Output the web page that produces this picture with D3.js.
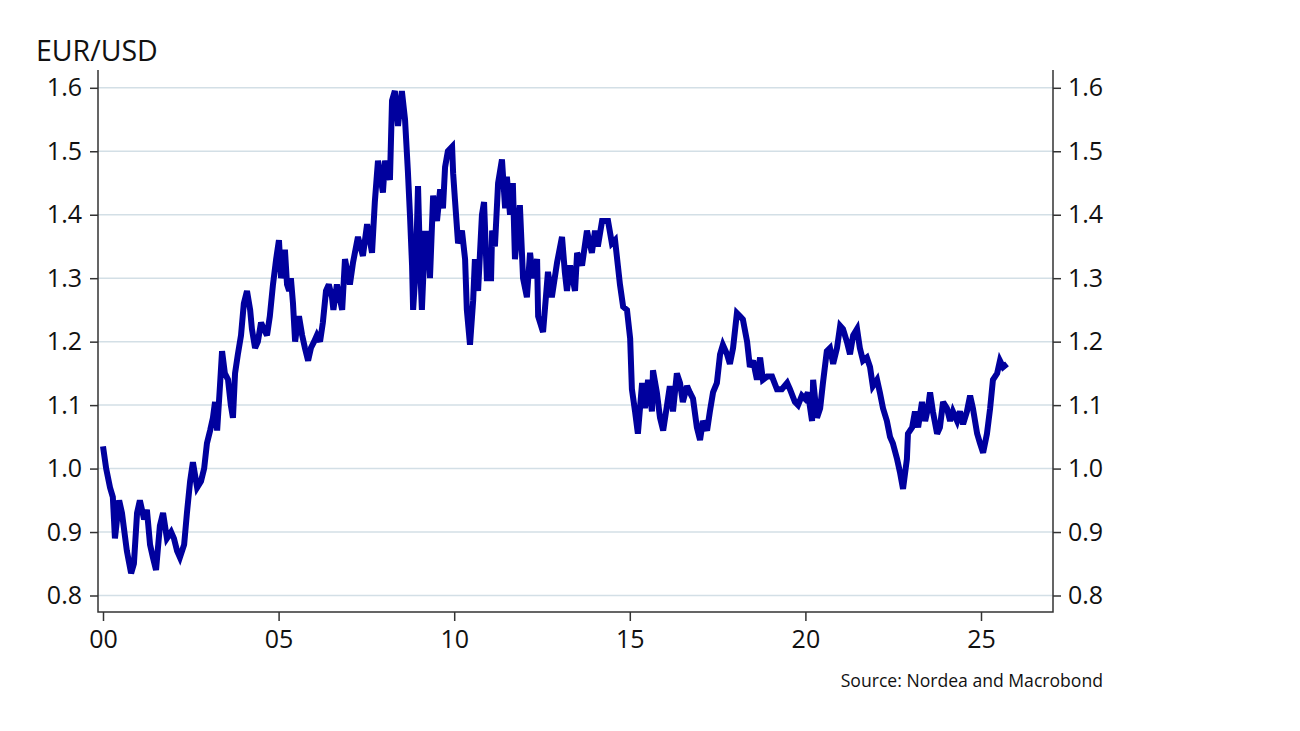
<!DOCTYPE html>
<html>
<head>
<meta charset="utf-8">
<script src="https://cdn.jsdelivr.net/npm/d3@7"></script>
<style>
  html, body { margin: 0; padding: 0; background: #ffffff; }
  svg { display: block; font-family: "Open Sans", "Noto Sans", sans-serif; }
</style>
</head>
<body>
<svg id="chart" width="1300" height="731"></svg>
<script>
// ---- data ----
const title = "EUR/USD";
const source = "Source: Nordea and Macrobond";
const yTicks = [0.8, 0.9, 1.0, 1.1, 1.2, 1.3, 1.4, 1.5, 1.6];
const xTicks = [2000, 2005, 2010, 2015, 2020, 2025];
const xTickLabels = ["00", "05", "10", "15", "20", "25"];

// decimal years
const dates = [
  2000.00, 2000.09, 2000.20, 2000.28, 2000.34, 2000.46, 2000.54, 2000.68, 2000.80, 2000.88,
  2000.97, 2001.05, 2001.17, 2001.25, 2001.34, 2001.42, 2001.51, 2001.62, 2001.71, 2001.82,
  2001.94, 2002.02, 2002.11, 2002.19, 2002.31, 2002.39, 2002.48, 2002.56, 2002.68, 2002.79,
  2002.88, 2002.96, 2003.05, 2003.13, 2003.19, 2003.25, 2003.33, 2003.39, 2003.47, 2003.56,
  2003.64, 2003.70, 2003.76, 2003.84, 2003.93, 2004.01, 2004.10, 2004.19, 2004.24, 2004.33,
  2004.41, 2004.50, 2004.58, 2004.67, 2004.75, 2004.84, 2004.93, 2005.01, 2005.07, 2005.13,
  2005.18, 2005.24, 2005.30, 2005.35, 2005.41, 2005.47, 2005.52, 2005.58, 2005.67, 2005.75,
  2005.84, 2005.92, 2006.01, 2006.09, 2006.18, 2006.26, 2006.35, 2006.43, 2006.52, 2006.56,
  2006.66, 2006.81, 2006.89, 2007.03, 2007.12, 2007.26, 2007.40, 2007.52, 2007.66, 2007.74,
  2007.83, 2007.97, 2008.03, 2008.17, 2008.23, 2008.31, 2008.40, 2008.51, 2008.60, 2008.68,
  2008.74, 2008.80, 2008.83, 2008.91, 2008.97, 2009.03, 2009.08, 2009.17, 2009.25, 2009.31,
  2009.40, 2009.51, 2009.60, 2009.68, 2009.74, 2009.82, 2009.94, 2009.97, 2010.02, 2010.11,
  2010.22, 2010.31, 2010.36, 2010.45, 2010.54, 2010.59, 2010.68, 2010.79, 2010.85, 2010.93,
  2011.05, 2011.08, 2011.16, 2011.25, 2011.36, 2011.45, 2011.50, 2011.59, 2011.67, 2011.73,
  2011.87, 2011.96, 2012.07, 2012.16, 2012.24, 2012.36, 2012.39, 2012.53, 2012.67, 2012.78,
  2012.93, 2013.07, 2013.15, 2013.21, 2013.30, 2013.44, 2013.50, 2013.64, 2013.78, 2013.92,
  2014.01, 2014.09, 2014.21, 2014.38, 2014.49, 2014.58, 2014.66, 2014.72, 2014.81, 2014.92,
  2015.01, 2015.06, 2015.15, 2015.23, 2015.35, 2015.43, 2015.52, 2015.63, 2015.66, 2015.77,
  2015.86, 2015.95, 2016.06, 2016.14, 2016.23, 2016.34, 2016.43, 2016.51, 2016.63, 2016.71,
  2016.80, 2016.91, 2017.00, 2017.08, 2017.20, 2017.28, 2017.37, 2017.48, 2017.57, 2017.65,
  2017.77, 2017.85, 2017.94, 2018.05, 2018.14, 2018.22, 2018.34, 2018.42, 2018.51, 2018.62,
  2018.71, 2018.79, 2018.91, 2019.05, 2019.19, 2019.33, 2019.48, 2019.56, 2019.70, 2019.79,
  2019.90, 2019.99, 2020.07, 2020.19, 2020.22, 2020.33, 2020.42, 2020.50, 2020.61, 2020.70,
  2020.79, 2020.90, 2020.99, 2021.07, 2021.18, 2021.27, 2021.36, 2021.47, 2021.55, 2021.64,
  2021.75, 2021.84, 2021.92, 2022.04, 2022.12, 2022.21, 2022.32, 2022.41, 2022.49, 2022.61,
  2022.69, 2022.78, 2022.89, 2022.92, 2023.04, 2023.12, 2023.21, 2023.32, 2023.41, 2023.49,
  2023.55, 2023.63, 2023.75, 2023.83, 2023.92, 2024.03, 2024.12, 2024.20, 2024.32, 2024.40,
  2024.49, 2024.60, 2024.69, 2024.77, 2024.89, 2024.97, 2025.06, 2025.17, 2025.26, 2025.34,
  2025.46, 2025.54, 2025.63, 2025.74
];

const eurusd = [
  1.035, 1.000, 0.970, 0.955, 0.890, 0.950, 0.930, 0.870, 0.835, 0.850,
  0.930, 0.950, 0.920, 0.935, 0.880, 0.860, 0.840, 0.910, 0.930, 0.890,
  0.900, 0.890, 0.870, 0.860, 0.880, 0.930, 0.980, 1.010, 0.970, 0.980,
  1.000, 1.040, 1.060, 1.080, 1.105, 1.060, 1.130, 1.185, 1.150, 1.140,
  1.100, 1.080, 1.150, 1.180, 1.210, 1.260, 1.280, 1.250, 1.220, 1.190,
  1.200, 1.230, 1.220, 1.210, 1.240, 1.290, 1.330, 1.360, 1.300, 1.320,
  1.345, 1.290, 1.280, 1.300, 1.260, 1.200, 1.220, 1.240, 1.210, 1.190,
  1.170, 1.190, 1.200, 1.210, 1.200, 1.230, 1.280, 1.290, 1.270, 1.250,
  1.290, 1.250, 1.330, 1.290, 1.325, 1.365, 1.335, 1.385, 1.340, 1.420,
  1.485, 1.435, 1.485, 1.455, 1.580, 1.595, 1.540, 1.595, 1.550, 1.470,
  1.400, 1.320, 1.250, 1.320, 1.445, 1.320, 1.250, 1.370, 1.370, 1.300,
  1.430, 1.390, 1.440, 1.410, 1.475, 1.500, 1.507, 1.465, 1.425, 1.355,
  1.375, 1.330, 1.250, 1.195, 1.265, 1.330, 1.280, 1.400, 1.420, 1.300,
  1.300, 1.375, 1.350, 1.450, 1.487, 1.410, 1.460, 1.400, 1.450, 1.330,
  1.415, 1.300, 1.270, 1.340, 1.300, 1.330, 1.240, 1.215, 1.310, 1.270,
  1.325, 1.365, 1.310, 1.280, 1.320, 1.280, 1.340, 1.320, 1.375, 1.340,
  1.375, 1.350, 1.390, 1.390, 1.355, 1.360, 1.320, 1.290, 1.255, 1.250,
  1.205, 1.125, 1.090, 1.055, 1.135, 1.095, 1.140, 1.090, 1.155, 1.120,
  1.080, 1.060, 1.100, 1.130, 1.090, 1.150, 1.135, 1.105, 1.130, 1.120,
  1.110, 1.065, 1.045, 1.075, 1.060, 1.090, 1.120, 1.135, 1.180, 1.195,
  1.180, 1.165, 1.190, 1.245, 1.240, 1.235, 1.200, 1.160, 1.170, 1.140,
  1.175, 1.140, 1.145, 1.145, 1.125, 1.125, 1.135, 1.125, 1.105, 1.100,
  1.115, 1.110, 1.120, 1.075, 1.140, 1.080, 1.095, 1.135, 1.185, 1.190,
  1.165, 1.190, 1.225, 1.220, 1.200, 1.180, 1.210, 1.220, 1.190, 1.170,
  1.175, 1.160, 1.130, 1.140, 1.120, 1.095, 1.075, 1.050, 1.040, 1.015,
  0.995, 0.968, 1.015, 1.055, 1.065, 1.090, 1.065, 1.105, 1.075, 1.095,
  1.120, 1.090, 1.055, 1.065, 1.105, 1.095, 1.075, 1.090, 1.075, 1.090,
  1.070, 1.090, 1.115, 1.095, 1.055, 1.040, 1.025, 1.055, 1.095, 1.140,
  1.150, 1.170, 1.160, 1.165
];

// ---- layout ----
const svg = d3.select("#chart");
const plotLeft = 98, plotRight = 1053, plotTop = 70, plotBottom = 612;

const x = d3.scaleLinear().domain([2000, 2025]).range([103, 981]);
const y = d3.scaleLinear().domain([0.8, 1.6]).range([595.5, 87.8]);

const gridColor = "#d3dfe6";
const axisColor = "#333333";
const lineColor = "#00009e";

// gridlines
svg.append("g").selectAll("line").data(yTicks).join("line")
  .attr("x1", plotLeft).attr("x2", plotRight)
  .attr("y1", d => y(d)).attr("y2", d => y(d))
  .attr("stroke", gridColor).attr("stroke-width", 1.5);

// series line
const data = dates.map((d, i) => ({ t: d, v: eurusd[i] }));
const line = d3.line().x(d => x(d.t)).y(d => y(d.v)).curve(d3.curveLinear);
svg.append("path").datum(data)
  .attr("d", line)
  .attr("fill", "none")
  .attr("stroke", lineColor)
  .attr("stroke-width", 6)
  .attr("stroke-linejoin", "miter")
  .attr("stroke-miterlimit", 3);

// frame lines (left, bottom, right)
svg.append("path")
  .attr("d", `M${plotLeft},${plotTop} V${plotBottom} H${plotRight} V${plotTop}`)
  .attr("fill", "none").attr("stroke", axisColor).attr("stroke-width", 1.5);

// left axis
const fmt = d3.format(".1f");
const leftAxis = svg.append("g").attr("transform", `translate(${plotLeft},0)`)
  .call(d3.axisLeft(y).tickValues(yTicks).tickFormat(fmt).tickSize(8).tickPadding(8));
// right axis
const rightAxis = svg.append("g").attr("transform", `translate(${plotRight},0)`)
  .call(d3.axisRight(y).tickValues(yTicks).tickFormat(fmt).tickSize(8).tickPadding(7));
// bottom axis
const bottomAxis = svg.append("g").attr("transform", `translate(0,${plotBottom})`)
  .call(d3.axisBottom(x).tickValues(xTicks).tickFormat((d, i) => xTickLabels[i]).tickSize(9).tickPadding(9));

[leftAxis, rightAxis, bottomAxis].forEach(g => {
  g.select(".domain").remove();
  g.selectAll(".tick line").attr("stroke", axisColor).attr("stroke-width", 1.5);
  g.selectAll(".tick text").attr("fill", "#111").attr("font-size", 25)
    .attr("font-family", "'Open Sans', 'Noto Sans', sans-serif");
});

// title
svg.append("text").attr("x", 36).attr("y", 61)
  .attr("font-size", 28.5).attr("fill", "#111").text(title);

// source
svg.append("text").attr("x", 1103).attr("y", 687)
  .attr("text-anchor", "end").attr("font-size", 17.6).attr("fill", "#111").text(source);
</script>
</body>
</html>
